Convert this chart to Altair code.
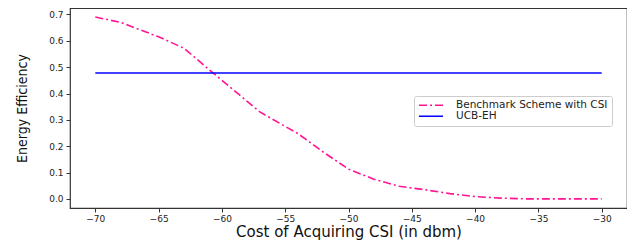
import altair as alt
import pandas as pd

cost = [-70, -68, -65, -63, -61, -59, -57, -55, -54, -52, -50, -48, -46, -44, -42, -40, -38, -36, -33, -30]
benchmark = [0.69, 0.67, 0.615, 0.572, 0.49, 0.41, 0.33, 0.275, 0.248, 0.178, 0.113, 0.075, 0.048, 0.035, 0.02, 0.009, 0.003, 0.0, 0.0, 0.0]
ucb_x = [-70, -30]
ucb_y = [0.478, 0.478]

s1 = "Benchmark Scheme with CSI"
s2 = "UCB-EH"

rows = [{"x": a, "y": b, "s": s1, "o": i} for i, (a, b) in enumerate(zip(cost, benchmark))]
rows += [{"x": a, "y": b, "s": s2, "o": i} for i, (a, b) in enumerate(zip(ucb_x, ucb_y))]
df = pd.DataFrame(rows)

chart = alt.Chart(df).mark_line(strokeWidth=1.6).encode(
    x=alt.X("x:Q", scale=alt.Scale(domain=[-72, -28], nice=False, zero=False),
            axis=alt.Axis(values=[-70, -65, -60, -55, -50, -45, -40, -35, -30], format="d",
                          title="Cost of Acquiring CSI (in dbm)")),
    y=alt.Y("y:Q", scale=alt.Scale(domain=[-0.0345, 0.7245], nice=False, zero=False),
            axis=alt.Axis(values=[0, 0.1, 0.2, 0.3, 0.4, 0.5, 0.6, 0.7], format=".1f",
                          title="Energy Efficiency", titleFont="DejaVu Sans Condensed, sans-serif",
                          titleFontSize=14, titlePadding=19, labelPadding=3)),
    color=alt.Color("s:N", scale=alt.Scale(domain=[s1, s2], range=["#ff1493", "#0000ff"]),
                    legend=alt.Legend(title=None, orient="none", legendX=344, legendY=88,
                                      symbolType="stroke", symbolSize=576, symbolStrokeWidth=1.6,
                                      labelFontSize=10.5, labelFont="DejaVu Sans", labelColor="#222",
                                      fillColor="white", strokeColor="#ccc", padding=4,
                                      rowPadding=0, labelOffset=12, cornerRadius=2, clipHeight=10.5)),
    strokeDash=alt.StrokeDash("s:N", scale=alt.Scale(domain=[s1, s2], range=[[8, 3, 2, 3], [1, 0]]), legend=None),
    order="o:Q",
).properties(width=557, height=200, padding={"left": 62, "top": 0, "right": 0, "bottom": 34},
             autosize=alt.AutoSizeParams(type="none")).configure_view(
    stroke="#333", strokeWidth=1.2
).configure_axis(
    grid=False, domain=False, tickColor="#333", tickSize=4, labelFont="DejaVu Sans",
    labelFontSize=9, labelColor="#222", titleFont="DejaVu Sans", titleFontWeight="normal",
    titleColor="#111"
).configure_axisX(titleFontSize=15, titlePadding=1, labelPadding=2).configure_legend(symbolDash=[8, 3, 2, 3])

chart.save("out.html", embed_options={"renderer": "svg", "actions": False})
